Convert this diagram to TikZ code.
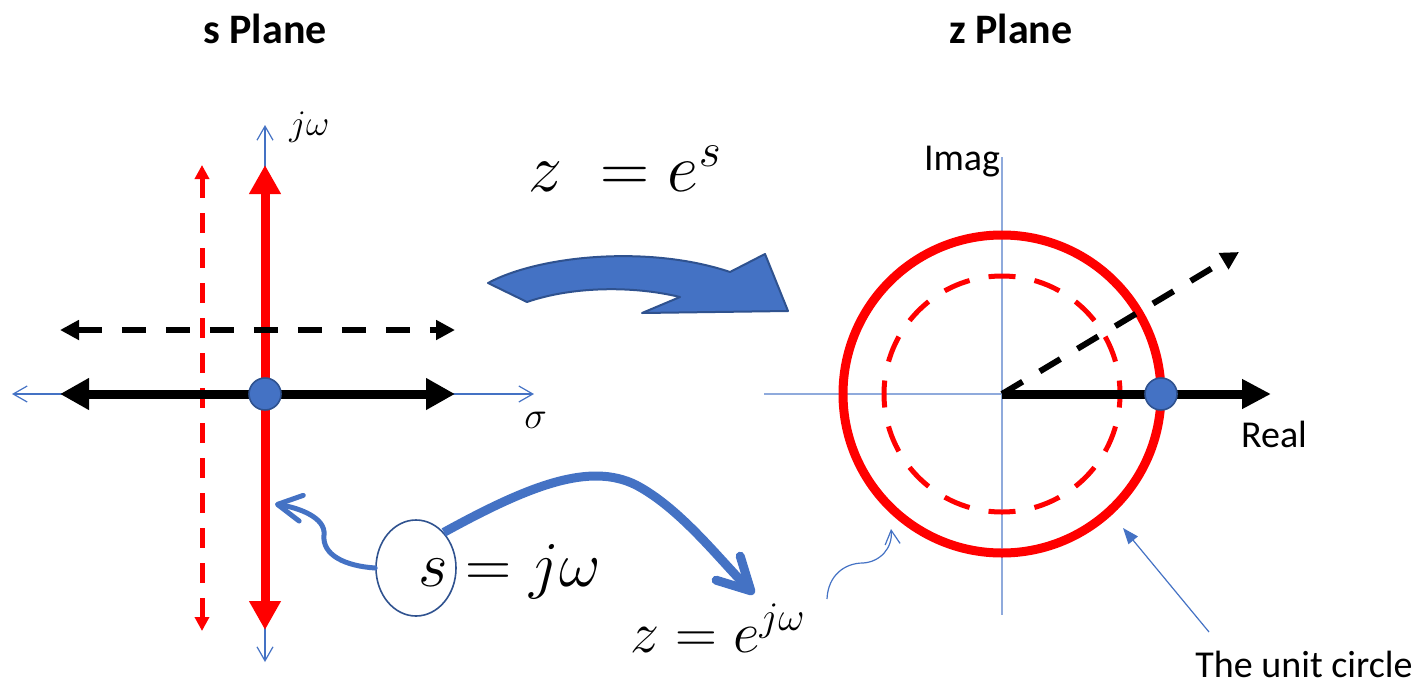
\RequirePackage{fix-cm}
\documentclass[tikz,border=0pt]{standalone}
\usepackage[no-math]{fontspec}
\setmainfont{Carlito}
\usetikzlibrary{positioning,arrows.meta,shapes.geometric}
\definecolor{msblue}{HTML}{4472C4}
\definecolor{msdark}{HTML}{2F528F}
\definecolor{mslight}{HTML}{8FAADC}
\definecolor{msred}{HTML}{FF0000}
\tikzset{
  thinhead/.tip={Straight Barb[length=7pt,width=8pt]},
  bighead/.tip={Triangle[length=14.5pt,width=15pt]},
  midhead/.tip={Triangle[length=9.5pt,width=9.5pt]},
  smallhead/.tip={Triangle[length=7pt,width=7pt]},
  saxis/.style={draw=msblue,line width=0.6pt,thinhead-thinhead},
  zaxis/.style={draw=mslight,line width=0.7pt},
  redline/.style={draw=msred,line width=4.5pt,bighead-bighead},
  reddash/.style={draw=msred,line width=2.5pt,dash pattern=on 10pt off 7.5pt,smallhead-smallhead},
  blackline/.style={draw=black,line width=4.5pt},
  blackdash/.style={draw=black,line width=3pt,dash pattern=on 12pt off 10pt},
  pointdot/.style={circle,fill=msblue,draw=msdark,line width=0.8pt,minimum size=16pt,inner sep=0pt},
  title/.style={font=\fontsize{21}{25}\selectfont\bfseries,anchor=base,inner sep=0pt},
  lbl/.style={font=\fontsize{19}{23}\selectfont,anchor=base,inner sep=0pt},
  eqn/.style={anchor=base west,inner sep=0pt},
  callout/.style={draw=msblue,line width=2.5pt,line cap=round,
    -{Straight Barb[length=12pt,width=13pt,round]}},
  callthick/.style={draw=msblue,line width=4.5pt,
    -{Straight Barb[length=16pt,width=17pt,round]}},
  pointer/.style={draw=msblue,line width=0.6pt},
}
\begin{document}
\begin{tikzpicture}[x=0.5pt,y=-0.5pt,>=Latex]
\useasboundingbox (0,0) rectangle (1427,685);

% titles
\node[title] (stitle) at (265,43) {s Plane};
\node[title] (ztitle) at (1011,43) {z Plane};

% s plane
\coordinate (sL) at (12,394);
\coordinate (sR) at (534,394);
\coordinate (sT) at (265,125);
\coordinate (sB) at (265,662);
\draw[saxis] (sL) -- (sR);
\draw[saxis] (sB) -- (sT);
\node[eqn,font=\fontsize{18}{20}\selectfont] (jw) at (289,135) {$j\omega$};
\node[eqn,font=\fontsize{19}{21}\selectfont] (sig) at (524,428) {$\sigma$};

\draw[reddash] (202,631) -- (202,165);
\draw[redline] (265,630) -- (265,165);
\draw[blackdash,midhead-midhead] (60,330) -- (455,330);
\draw[blackline,bighead-bighead] (60,394) -- (455,394);
\node[pointdot] (sdot) at (265,394) {};

% mapping arrow
\filldraw[fill=msblue,draw=msdark,line width=1pt,line join=round]
  (488,283) .. controls (540,255) and (650,245) .. (730,272)
  -- (765,254) -- (788,311) -- (642,313) -- (680,297)
  .. controls (630,285) and (570,287) .. (527,302) -- cycle;
\node[eqn,font=\fontsize{34}{38}\selectfont] (zes) at (528,191) {$z\;=e^{s}$};

% s = j omega
\node[ellipse,draw=msdark,line width=0.8pt,minimum width=40pt,minimum height=48pt,inner sep=0pt] (sel) at (416,568) {};
\node[eqn,font=\fontsize{32}{36}\selectfont] (sjw) at (418,586) {$s = j\omega$};
\node[eqn,font=\fontsize{29}{32}\selectfont] (zejw) at (630,652) {$z = e^{j\omega}$};
\coordinate (sarr) at (275,504);
\coordinate (zarr) at (754,594);
\draw[callout] (sel.west) .. controls (345,566) and (322,555) .. (324,535)
  .. controls (326,518) and (300,508) .. (sarr);
\draw[callthick] (sel.52) .. controls (530,485) and (590,462) .. (636,485)
  .. controls (680,508) and (720,560) .. (zarr);

% z plane
\coordinate (zc) at (1002,394);
\draw[zaxis] (764,394) -- (1240,394);
\draw[zaxis] (1002,157) -- (1002,615);
\node[lbl] (imag) at (962,170) {Imag};
\node[lbl] (real) at (1274,447) {Real};
\draw[draw=msred,line width=2.5pt,dash pattern=on 13.5pt off 9.67pt,dash phase=6.75pt] (zc) circle[radius=59pt];
\draw[draw=msred,line width=4.5pt] (zc) circle[radius=79.5pt];
\coordinate (zdiag) at (1239,252);
\coordinate (zreal) at (1271,394);
\draw[blackdash,-{Triangle[length=9pt,width=9pt]}] (zc) -- (zdiag);
\draw[blackline,-{Triangle[length=14.5pt,width=14pt]}] (zc) -- (zreal);
\node[pointdot] (zdot) at (1161,394) {};

% annotations
\node[lbl] (unit) at (1304,677) {The unit circle};
\coordinate (ucTail) at (1209,632);
\coordinate (ucTip) at (1123,528);
\draw[pointer,-{Triangle[length=8pt,width=6pt]}] (ucTail) -- (ucTip);
\coordinate (ejTail) at (827,599);
\coordinate (ejTip) at (891,529);
\draw[pointer,-{Straight Barb[length=7pt,width=7.5pt]}] (ejTail) .. controls (828,575) and (845,563) .. (863,563)
  .. controls (880,562) and (893,548) .. (ejTip);
\end{tikzpicture}
\end{document}
